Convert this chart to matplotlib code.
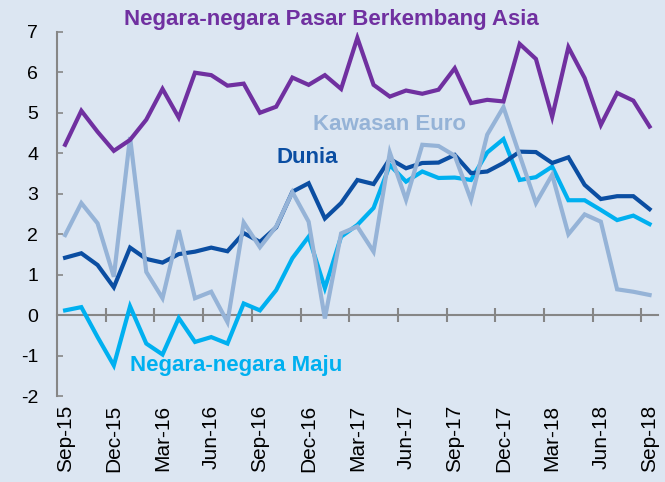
import matplotlib
matplotlib.use("Agg")
import matplotlib.pyplot as plt

months = ["Sep-15","Oct-15","Nov-15","Dec-15","Jan-16","Feb-16","Mar-16","Apr-16","May-16","Jun-16",
          "Jul-16","Aug-16","Sep-16","Oct-16","Nov-16","Dec-16","Jan-17","Feb-17","Mar-17","Apr-17",
          "May-17","Jun-17","Jul-17","Aug-17","Sep-17","Oct-17","Nov-17","Dec-17","Jan-18","Feb-18",
          "Mar-18","Apr-18","May-18","Jun-18","Jul-18","Aug-18","Sep-18"]

asia = [4.21, 5.05, 4.53, 4.06, 4.33, 4.83, 5.59, 4.88, 5.99, 5.93, 5.67, 5.72, 5.0, 5.15, 5.87, 5.69,
        5.93, 5.59, 6.85, 5.69, 5.4, 5.55, 5.47, 5.57, 6.1, 5.24, 5.32, 5.28, 6.7, 6.33, 4.9, 6.62,
        5.86, 4.7, 5.49, 5.3, 4.66]
dunia = [1.42, 1.53, 1.24, 0.69, 1.67, 1.39, 1.3, 1.51, 1.57, 1.67, 1.58, 2.03, 1.81, 2.17, 3.05, 3.26,
         2.39, 2.77, 3.34, 3.24, 3.86, 3.63, 3.76, 3.77, 3.96, 3.51, 3.55, 3.76, 4.04, 4.03, 3.76, 3.9,
         3.22, 2.87, 2.94, 2.94, 2.62]
euro = [1.98, 2.77, 2.27, 0.95, 4.4, 1.07, 0.42, 2.1, 0.42, 0.58, -0.17, 2.29, 1.68, 2.19, 3.04, 2.31,
        -0.08, 2.02, 2.19, 1.57, 4.02, 2.85, 4.21, 4.18, 3.94, 2.85, 4.46, 5.14, 3.95, 2.77, 3.47, 2.0,
        2.49, 2.31, 0.64, 0.58, 0.5]
maju = [0.12, 0.2, -0.54, -1.24, 0.22, -0.7, -0.97, -0.07, -0.66, -0.54, -0.7, 0.29, 0.12, 0.62, 1.41,
        1.94, 0.67, 1.94, 2.23, 2.65, 3.71, 3.3, 3.55, 3.39, 3.4, 3.34, 4.02, 4.35, 3.34, 3.41, 3.67,
        2.84, 2.84, 2.6, 2.35, 2.46, 2.25]

yticks = [-2, -1, 0, 1, 2, 3, 4, 5, 6, 7]

bg = "#dce6f2"
c_asia = "#7030a0"
c_dunia = "#0b4ea2"
c_euro = "#95b3d7"
c_maju = "#00b0f0"
axis_gray = "#868686"

plt.rcParams['font.family'] = ['Liberation Sans', 'DejaVu Sans']

fig = plt.figure(figsize=(6.65, 4.82), dpi=100, facecolor=bg)
ax = fig.add_axes([0.0857, 0.178, 0.9033, 0.756], facecolor=bg)

x = list(range(len(months)))
lw = 3.0
ax.plot(x, maju, color=c_maju, lw=lw, solid_joinstyle='miter', zorder=3)
ax.plot(x, dunia, color=c_dunia, lw=lw, solid_joinstyle='miter', zorder=4)
ax.plot(x, euro, color=c_euro, lw=lw, solid_joinstyle='miter', zorder=5)
ax.plot(x, asia, color=c_asia, lw=lw, solid_joinstyle='miter', zorder=6)

ax.set_xlim(-0.5, len(months) - 0.5)
ax.set_ylim(-2, 7)
ax.set_yticks(yticks)
ax.set_yticklabels([str(v) for v in yticks])

ax.set_xticks(x[::3])
ax.set_xticklabels(months[::3], rotation=90)
ax.tick_params(axis='x', length=0, pad=6, labelsize=15, colors='black')
ax.tick_params(axis='y', direction='in', length=4.5, width=1.2, color=axis_gray,
               labelsize=14, pad=13.5)

for s in ['top', 'right', 'bottom']:
    ax.spines[s].set_visible(False)
ax.spines['left'].set_color(axis_gray)
ax.spines['left'].set_linewidth(1.5)

# zero line axis with crossing ticks between categories
sec = ax.secondary_xaxis(2 / 9)
sec.set_xticks([i + 2.5 for i in x[::3] if i + 2.5 < len(months)])
sec.set_xticklabels([])
sec.tick_params(direction='inout', length=10, width=1.5, color=axis_gray)
sec.spines['bottom'].set_color(axis_gray)
sec.spines['bottom'].set_linewidth(1.5)
for s in ['top', 'left', 'right']:
    sec.spines[s].set_visible(False)

fs = 16
ax.text(0.456, 1.033, "Negara-negara Pasar Berkembang Asia", transform=ax.transAxes,
        color=c_asia, fontsize=fs, fontweight='bold', ha='center', va='center')
ax.text(0.554, 0.747, "Kawasan Euro", transform=ax.transAxes,
        color=c_euro, fontsize=fs, fontweight='bold', ha='center', va='center')
ax.text(0.416, 0.654, "Dunia", transform=ax.transAxes,
        color=c_dunia, fontsize=fs, fontweight='bold', ha='center', va='center')
ax.text(0.298, 0.085, "Negara-negara Maju", transform=ax.transAxes,
        color=c_maju, fontsize=fs, fontweight='bold', ha='center', va='center')

fig.savefig("out.png", dpi=100, facecolor=bg)
